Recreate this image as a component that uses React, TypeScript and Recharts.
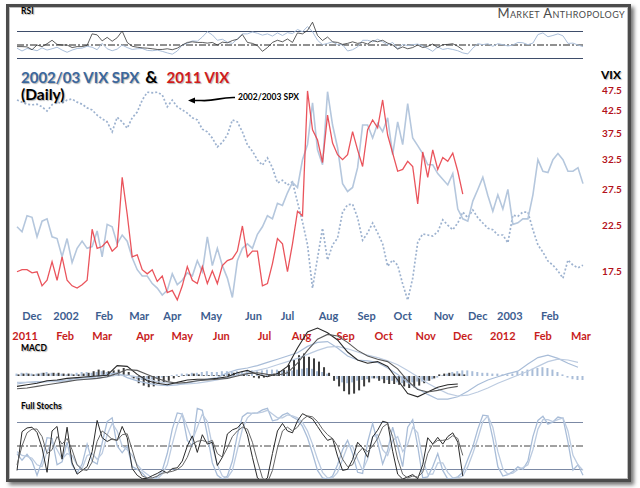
import React from 'react';
import {
  Bar,
  ComposedChart,
  Line,
  LineChart,
  ReferenceLine,
  XAxis,
  YAxis,
} from 'recharts';

// sessions are sampled evenly across the plot (index 0..113)
const VIX_2002 = [
  22.3, 21.7, 23.7, 23.5, 21.1, 23.0, 23.3, 21.1, 20.9, 18.9,
  20.9, 18.3, 19.8, 20.6, 19.8, 20.0, 21.8, 18.9, 22.6, 22.3,
  20.3, 21.3, 20.6, 18.8, 17.6, 17.0, 17.0, 16.3, 15.9, 15.3,
  15.7, 17.2, 16.2, 16.6, 17.3, 17.0, 18.5, 17.4, 21.1, 18.0,
  19.8, 18.0, 16.8, 15.1, 18.5, 19.8, 20.3, 19.8, 21.4, 22.3,
  23.7, 23.3, 25.4, 25.1, 26.9, 28.5, 27.7, 32.3, 35.1, 44.2,
  34.1, 31.4, 47.0, 39.1, 34.5, 28.3, 27.1, 27.7, 30.9, 39.1,
  39.1, 36.4, 39.4, 37.7, 40.7, 33.2, 39.8, 35.1, 44.0, 36.4,
  34.9, 33.4, 31.4, 31.4, 29.9, 29.0, 28.1, 29.9, 24.6, 23.3,
  23.0, 25.7, 27.4, 29.3, 26.5, 24.3, 26.6, 24.6, 27.4, 22.6,
  22.8, 23.3, 23.3, 26.6, 32.3, 30.3, 30.1, 32.3, 33.4, 32.3,
  30.3, 30.3, 30.9, 28.3,
];
const VIX_2011 = [
  17.4, 17.6, 17.6, 17.3, 17.4, 16.1, 16.6, 18.4, 16.6, 18.9,
  16.6, 16.1, 15.9, 16.2, 16.6, 22.0, 19.8, 20.0, 20.6, 19.5,
  20.0, 29.3, 23.9, 18.9, 19.1, 17.6, 17.2, 17.6, 16.5, 17.0,
  15.5, 15.7, 14.9, 16.1, 17.9, 16.6, 16.3, 17.9, 16.3, 17.5,
  16.3, 18.0, 18.5, 18.7, 19.5, 22.4, 18.9, 19.5, 19.5, 16.1,
  16.3, 18.2, 20.9, 20.3, 17.4, 20.3, 24.3, 23.7, 47.2, 38.1,
  36.0, 31.8, 41.3, 35.4, 33.2, 32.3, 33.2, 37.7, 34.1, 31.1,
  38.1, 40.2, 38.5, 44.9, 37.0, 33.5, 30.3, 30.6, 32.0, 31.1,
  25.3, 33.7, 29.3, 34.1, 30.6, 32.7, 32.0, 33.5, 30.3, 26.7,
];
const SPX_2002 = [
  1153, 1149, 1145, 1144, 1145, 1140, 1132, 1144, 1149, 1147,
  1153, 1155, 1149, 1145, 1138, 1134, 1124, 1117, 1111, 1092,
  1120, 1111, 1099, 1119, 1130, 1153, 1168, 1167, 1168, 1163,
  1140, 1153, 1140, 1134, 1128, 1119, 1115, 1097, 1092, 1080,
  1063, 1072, 1086, 1115, 1111, 1092, 1067, 1055, 1038, 1028,
  1042, 1023, 994, 999, 990, 996, 957, 919, 875, 792,
  850, 907, 846, 875, 888, 938, 952, 953, 927, 884,
  898, 917, 898, 877, 834, 846, 836, 800, 769, 811,
  880, 896, 894, 892, 900, 923, 913, 904, 917, 938,
  927, 942, 927, 917, 907, 904, 894, 894, 879, 932,
  930, 938, 938, 904, 875, 861, 844, 836, 825, 811,
  846, 836, 831, 836,
];

const RSI_2002 = [
  45.3, 41.1, 44.8, 43.4, 41.5, 45.8, 42.5, 44.4, 46.7, 42.5,
  39.2, 42.5, 44.8, 45.3, 48.1, 46.7, 43.0, 52.4, 44.4, 41.5,
  43.9, 50.0, 46.2, 43.4, 44.4, 44.8, 42.0, 41.5, 42.5, 40.6,
  38.3, 36.4, 41.1, 50.0, 52.4, 56.1, 55.6, 61.8, 69.7, 65.0,
  57.0, 58.5, 54.2, 52.4, 58.9, 66.5, 66.5, 69.3, 67.4, 64.6,
  66.5, 63.2, 67.9, 64.1, 68.3, 66.9, 73.0, 69.7, 77.3, 69.7,
  57.0, 50.5, 52.4, 54.7, 50.5, 50.5, 41.1, 43.0, 47.2, 57.0,
  57.0, 54.7, 58.5, 54.7, 50.0, 53.8, 44.4, 50.9, 49.1, 50.5,
  51.4, 48.6, 44.8, 40.6, 47.2, 43.4, 44.8, 43.4, 41.5, 38.3,
  36.8, 45.3, 51.9, 50.5, 51.9, 48.1, 51.9, 50.5, 48.6, 50.0,
  53.8, 53.3, 50.5, 52.8, 65.5, 67.9, 62.2, 64.1, 66.5, 63.6,
  52.4, 52.8, 50.0, 47.6,
];
const RSI_2011 = [
  47.6, 47.6, 47.2, 43.0, 50.0, 47.6, 51.9, 57.0, 50.9, 50.0,
  50.0, 46.2, 47.6, 47.6, 49.5, 66.5, 65.0, 56.1, 61.3, 55.6,
  60.8, 70.7, 53.8, 48.1, 46.7, 45.8, 45.3, 44.4, 43.4, 43.4,
  44.4, 43.0, 45.3, 50.0, 53.8, 54.7, 53.8, 53.8, 52.8, 53.8,
  50.0, 54.2, 53.3, 56.6, 58.5, 65.5, 53.8, 52.4, 49.1, 40.6,
  46.2, 53.8, 57.0, 54.7, 58.9, 53.8, 67.9, 66.5, 71.6, 83.8,
  64.1, 56.6, 61.8, 54.7, 53.8, 50.9, 52.4, 54.7, 52.4, 53.8,
  51.4, 56.6, 54.7, 57.0, 52.8, 50.0, 43.9, 47.2, 44.4, 46.2,
  50.0, 46.2, 48.1, 51.4, 46.2, 50.5, 50.9, 51.9, 48.1, 43.0,
];

// MACD lines, every second session
const MACD_2002 = [
  -1.0, -0.8, -0.7, -0.7, -0.6, -0.5, -0.3, -0.2, -0.1, 0.2,
  0.4, -0.2, -0.6, -0.9, -1.1, -1.2, -1.1, -0.9, -0.6, -0.4,
  -0.2, 0.4, 0.8, 1.0, 1.3, 1.7, 2.1, 2.5, 2.9, 3.7,
  4.2, 4.3, 3.5, 2.5, 2.0, 1.9, 1.7, 1.0, 0.2, -0.8,
  -1.6, -2.3, -2.9, -2.9, -2.6, -1.9, -1.1, -0.5, -0.1, 0.3,
  0.6, 1.5, 2.3, 2.6, 2.2, 1.6, 1.1,
];
const MACD_SIG_2002 = [
  -0.8, -0.8, -0.8, -0.7, -0.7, -0.6, -0.5, -0.4, -0.3, -0.1,
  0.1, 0.1, -0.1, -0.4, -0.7, -0.9, -1.0, -1.0, -0.9, -0.7,
  -0.5, -0.2, 0.1, 0.4, 0.7, 1.0, 1.4, 1.8, 2.2, 2.7,
  3.2, 3.6, 3.7, 3.4, 3.0, 2.6, 2.3, 1.9, 1.4, 0.7,
  -0.1, -0.9, -1.6, -2.2, -2.5, -2.4, -2.0, -1.5, -0.9, -0.4,
  0.1, 0.6, 1.2, 1.8, 2.1, 2.0, 1.7,
];
const MACD_2011 = [
  -1.3, -1.1, -0.9, -0.6, -0.5, -0.3, -0.2, -0.1, 0.0, 0.1,
  1.3, 1.2, 0.2, -0.6, -0.9, -1.1, -0.8, -0.5, -0.4, -0.4,
  -0.3, -0.1, 0.4, 0.7, 0.2, -0.1, 0.3, 1.2, 3.5, 5.5,
  6.0, 5.4, 4.5, 3.0, 2.0, 1.6, 1.8, 1.2, -0.5, -2.2,
  -2.6, -2.0, -1.4, -1.1, -1.0,
];
const MACD_SIG_2011 = [
  -1.6, -1.5, -1.3, -1.1, -0.9, -0.7, -0.5, -0.4, -0.3, -0.1,
  0.3, 0.8, 0.7, 0.2, -0.3, -0.7, -0.9, -0.8, -0.6, -0.5,
  -0.4, -0.3, 0.0, 0.3, 0.4, 0.2, 0.1, 0.4, 1.6, 3.2,
  4.6, 5.2, 5.0, 4.2, 3.2, 2.5, 2.1, 1.8, 0.9, -0.6,
  -1.7, -2.0, -1.8, -1.5, -1.3,
];
const HIST_2002 = [
  0.3, 0.4, 0.4, 0.3, 0.3, 0.4, 0.5, 0.4, 0.3, 0.3,
  0.2, 0.3, 0.4, 0.5, 0.5, 0.4, 0.5, 0.6, 0.5, 0.4,
  0.3, 0.2, 0.1, -0.2, -0.4, -0.5, -0.5, -0.4, -0.3, -0.2,
  -0.1, 0.1, 0.2, 0.3, 0.3, 0.4, 0.4, 0.5, 0.6, 0.5,
  0.5, 0.6, 0.6, 0.5, 0.6, 0.6, 0.7, 0.7, 0.6, 0.7,
  0.8, 0.8, 0.8, 0.7, 0.7, 0.7, 0.8, 0.9, 1.0, 0.9,
  0.6, 0.5, 0.3, 0.0, -0.4, -0.8, -0.9, -0.8, -0.6, -0.5,
  -0.4, -0.3, -0.3, -0.4, -0.5, -0.6, -0.8, -0.9, -0.8, -0.8,
  -0.7, -0.7, -0.6, -0.4, -0.2, 0.1, 0.3, 0.5, 0.6, 0.7,
  0.7, 0.6, 0.5, 0.4, 0.4, 0.3, 0.3, 0.2, 0.2, 0.3,
  0.5, 0.6, 0.8, 0.9, 1.0, 1.1, 1.0, 0.8, 0.5, 0.2,
  -0.2, -0.4, -0.5, -0.5,
];
const HIST_2011 = [
  0.2, 0.3, 0.3, 0.2, 0.3, 0.4, 0.3, 0.4, 0.4, 0.3,
  0.3, 0.2, 0.2, 0.3, 0.4, 0.6, 0.8, 0.7, 0.6, 0.7,
  0.8, 1.0, 0.5, -0.3, -0.9, -1.2, -1.4, -1.3, -1.0, -0.8,
  -0.6, -0.3, -0.1, 0.1, 0.2, 0.3, 0.2, 0.1, 0.1, 0.1,
  0.1, 0.2, 0.3, 0.4, 0.3, 0.3, 0.1, -0.2, -0.3, -0.2,
  0.1, 0.3, 0.6, 0.8, 1.4, 2.0, 2.6, 2.8, 2.4, 2.2,
  1.8, 1.1, 0.4, -0.6, -1.3, -1.9, -2.3, -2.2, -1.8, -1.3,
  -0.8, -0.3, -0.6, -0.9, -1.0, -1.0, -1.1, -1.3, -1.5, -1.4,
  -1.2, -0.9, -0.6, -0.3, 0.2, 0.3, 0.4, 0.3, 0.3, 0.2,
];

const STOCH_K_2002 = [
  42, 34.8, 41.2, 34, 18.8, 34, 58.8, 58, 30, 33.2,
  54, 30, 21.2, 30.8, 52, 34, 30.8, 53.2, 76, 80,
  50, 42.8, 50, 28, 25.2, 21.2, 15.6, 13.2, 17.2, 24,
  42, 68, 85.2, 84, 56, 50, 90, 88, 62, 32,
  18.8, 14.8, 18, 34, 62, 81.2, 85.2, 84.8, 85.2, 88.4,
  90, 76.8, 78, 82.8, 85.2, 80.8, 78, 70.8, 58.8, 42,
  24, 16, 14.8, 18, 30, 46, 56, 42, 22, 20.8,
  54, 74, 54, 30.8, 45.2, 70, 50, 28, 70, 78,
  50, 16, 17.2, 28, 42, 24, 14.8, 15.6, 17.2, 22,
  36, 49.2, 68, 82.8, 82, 58, 28, 18, 19.6, 22.8,
  28, 25.2, 34, 60, 77.2, 81.6, 73.2, 75.6, 80.8, 79.6,
  54, 24.4, 30, 18.8,
];
const STOCH_D_2002 = [
  44, 40, 39, 37, 30, 28, 44, 55, 46, 36,
  42, 40, 30, 26, 40, 42, 36, 42, 62, 74,
  66, 50, 46, 40, 30, 24, 20, 16, 15, 20,
  30, 52, 72, 84, 70, 56, 70, 84, 76, 50,
  30, 18, 16, 24, 46, 68, 80, 85, 85, 86,
  88, 84, 80, 80, 83, 82, 80, 75, 66, 52,
  36, 22, 16, 16, 22, 36, 50, 50, 36, 24,
  36, 60, 62, 46, 40, 56, 60, 44, 52, 70,
  64, 36, 20, 20, 32, 32, 22, 16, 16, 18,
  28, 42, 58, 76, 82, 70, 44, 26, 20, 21,
  25, 27, 30, 46, 68, 78, 78, 76, 78, 80,
  66, 40, 30, 24,
];
const STOCH_K_2011 = [
  24, 65.2, 69.2, 70, 64.4, 48, 22, 66, 70.8, 36,
  70, 32, 20, 24, 28, 44, 77.2, 58.8, 54.8, 57.6,
  56, 70.8, 58.8, 26, 18.8, 15.2, 15.6, 18.4, 20.8, 24,
  21.2, 26, 26.8, 34, 50, 60.8, 43.2, 62, 52, 54,
  29.2, 38, 62.8, 67.2, 69.2, 75.2, 62, 38, 16, 12,
  16, 42, 66, 74, 66, 64, 76.8, 84.4, 81.6, 78.8,
  70.8, 62.8, 56, 58, 39.2, 24, 25.2, 35.6, 54, 48,
  38, 59.6, 66.8, 76.4, 74.8, 44.4, 20, 14.8, 17.2, 19.6,
  15.2, 30, 58.8, 52, 59.2, 52, 60, 64, 54, 18,
];
const STOCH_D_2011 = [
  30, 50, 64, 68, 68, 60, 42, 46, 60, 52,
  58, 46, 30, 25, 24, 33, 55, 66, 62, 57,
  56, 62, 63, 46, 28, 18, 16, 16, 18, 21,
  22, 23, 25, 29, 38, 52, 55, 56, 54, 56,
  42, 38, 48, 60, 66, 70, 68, 54, 34, 16,
  11, 24, 48, 66, 70, 66, 70, 78, 82, 81,
  76, 68, 62, 58, 50, 36, 28, 30, 42, 48,
  44, 50, 58, 70, 74, 60, 36, 20, 16, 18,
  17, 22, 42, 52, 56, 56, 57, 61, 58, 40,
];

// month labels and the session where each one sits
const TOP_TICKS = [3, 9.8, 17.4, 24.4, 31, 38.8, 47.2, 54, 62.2, 69.8, 77, 85.2, 92, 98.4, 106.4];
const TOP_LABELS = ['Dec', '2002', 'Feb', 'Mar', 'Apr', 'May', 'Jun', 'Jul', 'Aug', 'Sep', 'Oct', 'Nov', 'Dec', '2003', 'Feb'];
const BOTTOM_TICKS = [1.6, 9.6, 17, 25.6, 33, 40.8, 49.4, 56.8, 65.6, 73.2, 81.6, 89, 97, 105, 112.6];
const BOTTOM_LABELS = ['2011', 'Feb', 'Mar', 'Apr', 'May', 'Jun', 'Jul', 'Aug', 'Sep', 'Oct', 'Nov', 'Dec', '2012', 'Feb', 'Mar'];
const VIX_TICKS = [17.5, 22.5, 27.5, 32.5, 37.5, 42.5, 47.5];

const LAST = VIX_2002.length - 1;
const at = (arr: number[], i: number) => (i < arr.length ? arr[i] : null);
const half = (arr: number[], i: number) =>
  i % 2 === 0 && i / 2 < arr.length ? arr[i / 2] : null;

const rows = VIX_2002.map((v, i) => ({
  i,
  vix02: v,
  vix11: at(VIX_2011, i),
  spx: SPX_2002[i],
  rsi02: RSI_2002[i],
  rsi11: at(RSI_2011, i),
  macd02: half(MACD_2002, i),
  sig02: half(MACD_SIG_2002, i),
  macd11: half(MACD_2011, i),
  sig11: half(MACD_SIG_2011, i),
  hist02: HIST_2002[i],
  hist11: at(HIST_2011, i),
  k02: STOCH_K_2002[i],
  d02: STOCH_D_2002[i],
  k11: at(STOCH_K_2011, i),
  d11: at(STOCH_D_2011, i),
}));

const BLUE_TXT = '#3d5d8f';
const RED_TXT = '#c81d1d';
const VIX_BLUE = '#b5c7dd';
const SPX_BLUE = '#9db2cf';
const VIX_RED = '#e8414a';
const IND_BLUE = '#a9bdd8';
const IND_DARK = '#333333';
const GUIDE = '#3e4d6a';
const FONT = 'Lato, "Open Sans", sans-serif';

// frame content origin on the page
const FX = 9;
const FY = 7;

const Label = ({ x, y, size, color = '#000', children, style = {} }: any) => (
  <div
    style={{
      position: 'absolute',
      left: x - FX,
      top: y - FY - size / 2,
      fontSize: size,
      lineHeight: 1,
      fontWeight: 700,
      color,
      whiteSpace: 'nowrap',
      fontFamily: FONT,
      textShadow: '1px 1px 1px rgba(0,0,0,0.3)',
      ...style,
    }}
  >
    {children}
  </div>
);

const monthTick = (ticks: number[], labels: string[], color: string) => (p: any) => {
  const idx = ticks.indexOf(p.payload.value);
  return (
    <text
      x={p.x}
      y={p.y + 11}
      textAnchor="middle"
      dominantBaseline="central"
      fill={color}
      fontSize={11}
      fontWeight={700}
      fontFamily={FONT}
    >
      {labels[idx]}
    </text>
  );
};

const VixTick = (p: any) => (
  <text
    x={p.x + 29}
    y={p.y}
    textAnchor="middle"
    dominantBaseline="central"
    fill="#b3121b"
    fontSize={10}
    fontWeight={700}
    fontFamily={FONT}
  >
    {p.payload.value.toFixed(1)}
  </text>
);

const box = (x: number, y: number) => ({ position: 'absolute' as const, left: x - FX, top: y - FY });
const NO_MARGIN = { top: 0, right: 0, bottom: 0, left: 0 };

export default function App() {
  return (
    <div style={{ position: 'absolute', left: 0, top: 0, width: 640, height: 488, background: '#fff' }}>
      <style>{'.recharts-surface { overflow: visible; }'}</style>
      <div
        style={{
          position: 'absolute',
          left: 6,
          top: 4,
          width: 619,
          height: 472,
          border: '3px solid #4b4b4b',
          boxShadow: '3px 3px 4px rgba(0,0,0,0.55), inset 0 0 0 1px #bdbdbd',
          background: '#fff',
          overflow: 'hidden',
        }}
      >
        {/* RSI */}
        <div style={box(17, 17.5)}>
          <LineChart width={566} height={47.25} data={rows} margin={NO_MARGIN}>
            <XAxis dataKey="i" type="number" domain={[0, LAST]} hide />
            <YAxis domain={[20, 90]} hide allowDataOverflow />
            <ReferenceLine y={70} stroke={GUIDE} strokeWidth={1} />
            <ReferenceLine y={50} stroke="#222" strokeWidth={1} strokeDasharray="7 2 2 2" />
            <ReferenceLine y={30} stroke={GUIDE} strokeWidth={1} />
            <Line dataKey="rsi02" stroke={IND_BLUE} strokeWidth={1} dot={false} isAnimationActive={false} />
            <Line dataKey="rsi11" stroke={IND_DARK} strokeWidth={0.8} dot={false} isAnimationActive={false} />
          </LineChart>
        </div>

        {/* main VIX / SPX panel */}
        <div style={box(17, 86.2)}>
          <LineChart width={623} height={258.8} data={rows} margin={NO_MARGIN}>
            <XAxis
              xAxisId="a"
              dataKey="i"
              type="number"
              domain={[0, LAST]}
              ticks={TOP_TICKS}
              interval={0}
              height={20}
              tickSize={0}
              tickMargin={0}
              axisLine={false}
              tickLine={false}
              tick={monthTick(TOP_TICKS, TOP_LABELS, BLUE_TXT)}
            />
            <XAxis
              xAxisId="b"
              dataKey="i"
              type="number"
              domain={[0, LAST]}
              ticks={BOTTOM_TICKS}
              interval={0}
              height={20}
              tickSize={0}
              tickMargin={0}
              axisLine={false}
              tickLine={false}
              tick={monthTick(BOTTOM_TICKS, BOTTOM_LABELS, RED_TXT)}
            />
            <YAxis
              yAxisId="vix"
              orientation="right"
              scale="log"
              domain={[14.5, 48.5]}
              allowDataOverflow
              ticks={VIX_TICKS}
              interval={0}
              width={57}
              tickSize={0}
              tickMargin={0}
              axisLine={false}
              tickLine={false}
              tick={VixTick}
            />
            <YAxis yAxisId="spx" hide domain={[760, 1180]} allowDataOverflow />
            <Line
              xAxisId="a"
              yAxisId="spx"
              dataKey="spx"
              stroke={SPX_BLUE}
              strokeWidth={1.7}
              strokeDasharray="2 2"
              dot={false}
              isAnimationActive={false}
            />
            <Line
              xAxisId="a"
              yAxisId="vix"
              dataKey="vix02"
              stroke={VIX_BLUE}
              strokeWidth={1.6}
              dot={false}
              isAnimationActive={false}
            />
            <Line
              xAxisId="b"
              yAxisId="vix"
              dataKey="vix11"
              stroke={VIX_RED}
              strokeOpacity={0.9}
              strokeWidth={1.3}
              dot={false}
              isAnimationActive={false}
            />
          </LineChart>
        </div>

        {/* MACD */}
        <div style={box(17, 324)}>
          <ComposedChart width={566} height={80} data={rows} margin={NO_MARGIN} barGap={0}>
            <XAxis dataKey="i" type="number" domain={[0, LAST]} hide />
            <YAxis domain={[-3.5, 6.5]} hide allowDataOverflow />
            <Bar dataKey="hist02" fill={IND_BLUE} barSize={2} isAnimationActive={false} />
            <Bar dataKey="hist11" fill="#3c3c3c" barSize={2} isAnimationActive={false} />
            <Line dataKey="macd02" stroke={IND_BLUE} strokeWidth={1.2} dot={false} connectNulls isAnimationActive={false} />
            <Line dataKey="sig02" stroke="#bccbe0" strokeWidth={1.2} dot={false} connectNulls isAnimationActive={false} />
            <Line dataKey="macd11" stroke="#2a2a2a" strokeWidth={1.1} dot={false} connectNulls isAnimationActive={false} />
            <Line dataKey="sig11" stroke="#5a5a5a" strokeWidth={1.1} dot={false} connectNulls isAnimationActive={false} />
          </ComposedChart>
        </div>

        {/* Full Stochastics */}
        <div style={box(17, 399)}>
          <LineChart width={566} height={94} data={rows} margin={NO_MARGIN}>
            <XAxis dataKey="i" type="number" domain={[0, LAST]} hide />
            <YAxis domain={[0, 100]} hide allowDataOverflow />
            <ReferenceLine y={75} stroke="#7b89a4" strokeWidth={1} />
            <ReferenceLine y={50} stroke="#444" strokeWidth={1} strokeDasharray="7 2 2 2" />
            <ReferenceLine y={25} stroke="#7b89a4" strokeWidth={1} />
            <Line dataKey="k02" stroke={IND_BLUE} strokeWidth={1.3} dot={false} isAnimationActive={false} />
            <Line dataKey="d02" stroke="#bccbe0" strokeWidth={1.3} dot={false} isAnimationActive={false} />
            <Line dataKey="k11" stroke="#2a2a2a" strokeWidth={1} dot={false} isAnimationActive={false} />
            <Line dataKey="d11" stroke="#666" strokeWidth={1} dot={false} isAnimationActive={false} />
          </LineChart>
        </div>

        {/* annotation arrow */}
        <svg
          width={640}
          height={488}
          style={{ position: 'absolute', left: -FX, top: -FY, pointerEvents: 'none' }}
        >
          <path d="M235 97.5 C219 97 216 101.5 201 100.5 L194 100.5" stroke="#000" strokeWidth={1.6} fill="none" />
          <polygon points="188,100.5 195,97.5 195,103.5" fill="#000" />
        </svg>

        <Label x={21} y={11} size={8.5}>RSI</Label>
        <div
          style={{
            position: 'absolute',
            right: 631 - 625 - 3,
            top: 14 - FY - 7,
            fontSize: 13,
            lineHeight: 1,
            fontVariant: 'small-caps',
            letterSpacing: 0.4,
            color: '#4a4a4a',
            fontFamily: FONT,
            whiteSpace: 'nowrap',
          }}
        >
          Market Anthropology
        </div>
        <Label x={21} y={75} size={15}>
          <span style={{ color: '#3b679d' }}>2002/03 VIX SPX</span>
          <span style={{ color: '#000', fontSize: 17, margin: '0 9px 0 6px' }}>&amp;</span>
          <span style={{ color: '#d01c1c' }}>2011 VIX</span>
        </Label>
        <Label x={21} y={95} size={15.5}>(Daily)</Label>
        <Label x={238} y={97} size={8.5} style={{ textShadow: 'none' }}>2002/2003 SPX</Label>
        <Label x={601} y={75} size={12}>VIX</Label>
        <Label x={21} y={348} size={8.5}>MACD</Label>
        <Label x={21} y={406} size={8.5}>Full Stochs</Label>
      </div>
    </div>
  );
}
